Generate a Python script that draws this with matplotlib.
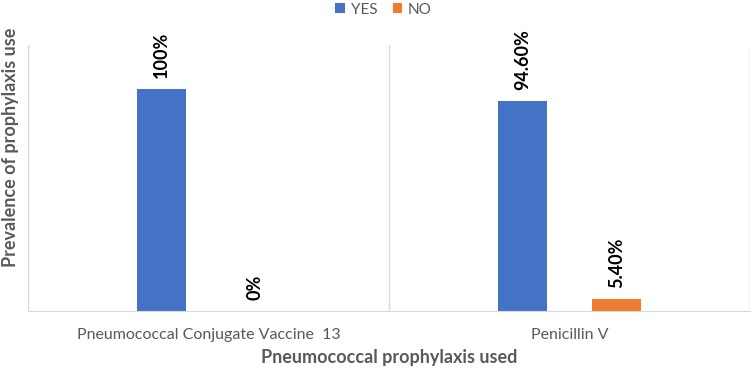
import matplotlib
matplotlib.use("Agg")
import matplotlib.pyplot as plt
import numpy as np

# Data
categories = ["Pneumococcal Conjugate Vaccine  13", "Penicillin V"]
yes_values = [1.00, 0.946]
no_values = [0.00, 0.054]
yes_labels = ["100%", "94.60%"]
no_labels = ["0%", "5.40%"]

plt.rcParams['font.family'] = ['Lato', 'DejaVu Sans']

fig = plt.figure(figsize=(7.52, 3.69), dpi=100)
ax = fig.add_axes([28 / 752, 1 - 311 / 369, 722 / 752, 266 / 369])

x = np.arange(len(categories))
width = 0.136
offset = 0.13

bars_yes = ax.bar(x - offset, yes_values, width, color='#4472C4', label='YES')
bars_no = ax.bar(x + offset, no_values, width, color='#ED7D31', label='NO')

for bars, labels in [(bars_yes, yes_labels), (bars_no, no_labels)]:
    for b, lab in zip(bars, labels):
        ax.annotate(lab, (b.get_x() + b.get_width() / 2, b.get_height()),
                    xytext=(0, 8), textcoords='offset points',
                    ha='center', va='bottom', rotation=90,
                    fontsize=13, fontweight='bold', color='black')

ax.set_xlim(-0.5, len(categories) - 0.5)
ax.set_ylim(0, 1.2)
ax.set_yticks([])
ax.set_xticks(x)
ax.set_xticklabels(categories, fontsize=11.5, color='#595959')
ax.tick_params(axis='x', length=0, pad=12)

# category separators like Excel's vertical gridlines
for xv in np.arange(-0.5, len(categories), 1.0):
    ax.axvline(xv, color='#D9D9D9', linewidth=1)

for s in ['top', 'left', 'right']:
    ax.spines[s].set_visible(False)
ax.spines['bottom'].set_color('#D9D9D9')

ax.set_ylabel('Prevalence of prophylaxis use', fontsize=13, fontweight='bold',
              color='#595959')
ax.yaxis.set_label_coords(-0.012, 0.615)
ax.set_xlabel('Pneumococcal prophylaxis used', fontsize=13, fontweight='bold',
              color='#595959', labelpad=5)

fig.legend(loc='upper center', bbox_to_anchor=(0.51, 1.03), ncol=2, frameon=False,
           fontsize=11, handlelength=0.6, handleheight=0.6, columnspacing=1.0,
           handletextpad=0.4, labelcolor='#595959')

fig.savefig('out.png', dpi=100)
